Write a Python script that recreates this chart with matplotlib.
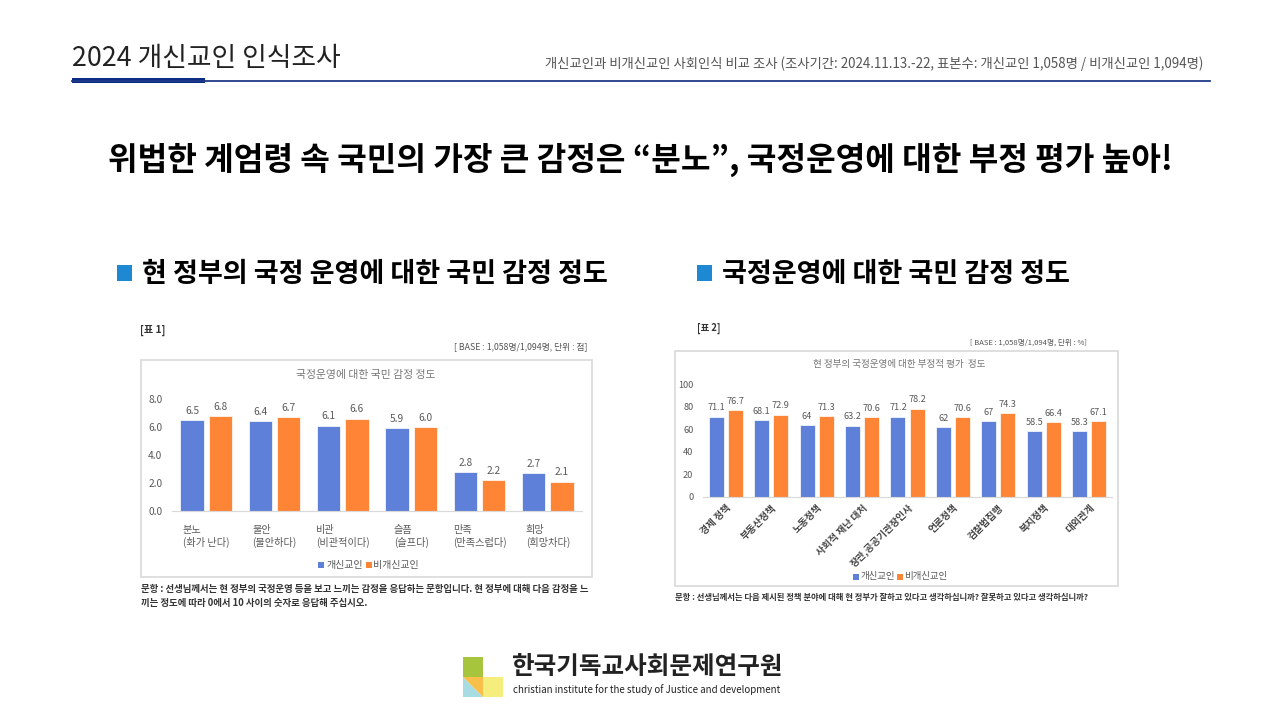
import matplotlib.pyplot as plt
import matplotlib.patches as mpatches
import numpy as np

plt.rcParams['font.family'] = ['Noto Sans CJK KR', 'DejaVu Sans']

# data - chart 1 (emotion scores, 0-10 scale)
emotions = ['분노\n(화가 난다)', '불안\n(불안하다)', '비관\n(비관적이다)',
            '슬픔\n(슬프다)', '만족\n(만족스럽다)', '희망\n(희망차다)']
emo_christian = [6.5, 6.4, 6.1, 5.9, 2.8, 2.7]
emo_non = [6.8, 6.7, 6.6, 6.0, 2.2, 2.1]

# data - chart 2 (negative evaluation, %)
policies = ['경제 정책', '부동산정책', '노동정책', '사회적 재난 대처', '장관,공공기관장인사',
            '언론정책', '검찰법집행', '복지정책', '대외관계']
neg_christian = [71.1, 68.1, 64, 63.2, 71.2, 62, 67, 58.5, 58.3]
neg_non = [76.7, 72.9, 71.3, 70.6, 78.2, 70.6, 74.3, 66.4, 67.1]

series_names = ['개신교인', '비개신교인']
BLUE = '#5F80D8'
ORANGE = '#FF8536'
GRAY = '#595959'

W, H = 1280, 720
fig = plt.figure(figsize=(12.8, 7.2), dpi=100)

# overlay in pixel coords for the slide decoration
bg = fig.add_axes([0, 0, 1, 1])
bg.set_xlim(0, W)
bg.set_ylim(H, 0)
bg.axis('off')


def px_axes(x0, y0, x1, y1):
    # pixel box (top-left origin) -> figure axes
    return fig.add_axes([x0 / W, 1 - y1 / H, (x1 - x0) / W, (y1 - y0) / H])


# header
bg.text(72, 58, '2024 개신교인 인식조사', fontsize=19.3, fontweight='light', color='#222222',
        va='center', ha='left')
bg.text(1203, 64, '개신교인과 비개신교인 사회인식 비교 조사 (조사기간: 2024.11.13.-22, 표본수: 개신교인 1,058명 / 비개신교인 1,094명)',
        fontsize=9.6, color='#555555', va='center', ha='right')
bg.plot([72, 1210], [80.5, 80.5], color='#1F3A8A', lw=1.3)
bg.add_patch(mpatches.Rectangle((72, 78), 133, 5, color='#0B2C85', lw=0))

# main title
bg.text(640, 160, '위법한 계엄령 속 국민의 가장 큰 감정은 “분노”, 국정운영에 대한 부정 평가 높아!',
        fontsize=23.2, fontweight='bold', color='black', ha='center', va='center')

# section headings
for sx, label in [(117, '현 정부의 국정 운영에 대한 국민 감정 정도'), (697, '국정운영에 대한 국민 감정 정도')]:
    bg.add_patch(mpatches.Rectangle((sx, 265), 15, 16, color='#1E88D2', lw=0))
    bg.text(sx + 25, 273.5, label, fontsize=19.5, fontweight='bold', color='black', va='center', ha='left')

# chart frames and small captions
bg.add_patch(mpatches.Rectangle((141, 360), 451, 217, fill=False, ec='#D9D9D9', lw=1.2))
bg.add_patch(mpatches.Rectangle((675, 351), 443, 235, fill=False, ec='#D9D9D9', lw=1.2))
bg.text(140, 330, '[표 1]', fontsize=7.3, fontweight='bold', color='#333333', va='center')
bg.text(697, 328, '[표 2]', fontsize=6.8, fontweight='bold', color='#333333', va='center')
bg.text(587, 347, '[ BASE : 1,058명/1,094명, 단위 : 점]', fontsize=6.3, color='#555555', va='center', ha='right')
bg.text(1087, 343, '[ BASE : 1,058명/1,094명, 단위 : %]', fontsize=5.5, color='#555555', va='center', ha='right')
bg.text(366, 375, '국정운영에 대한 국민 감정 정도', fontsize=7.8, color='#777777', ha='center', va='center')
bg.text(899, 364, '현 정부의 국정운영에 대한 부정적 평가  정도', fontsize=6.9, color='#777777', ha='center', va='center')
bg.text(141, 589, '문항 : 선생님께서는 현 정부의 국정운영 등을 보고 느끼는 감정을 응답하는 문항입니다. 현 정부에 대해 다음 감정을 느',
        fontsize=6.8, fontweight='bold', color='#333333', va='center')
bg.text(141, 603, '끼는 정도에 따라 0에서 10 사이의 숫자로 응답해 주십시오.',
        fontsize=6.8, fontweight='bold', color='#333333', va='center')
bg.text(675, 597, '문항 : 선생님께서는 다음 제시된 정책 분야에 대해 현 정부가 잘하고 있다고 생각하십니까? 잘못하고 있다고 생각하십니까?',
        fontsize=6.0, fontweight='bold', color='#333333', va='center')

# legends: (blue square x, orange square x, y, font size)
for bx, ox, cy, fs in [(318, 366, 565, 7.2), (853, 897, 577, 6.8)]:
    bg.add_patch(mpatches.Rectangle((bx, cy - 3), 6, 6, color=BLUE, lw=0))
    bg.text(bx + 8, cy, series_names[0], fontsize=fs, color=GRAY, va='center')
    bg.add_patch(mpatches.Rectangle((ox, cy - 3), 6, 6, color=ORANGE, lw=0))
    bg.text(ox + 7, cy, series_names[1], fontsize=fs, color=GRAY, va='center')

# logo
bg.add_patch(mpatches.Rectangle((463, 657), 20, 20, color='#A6C43C', lw=0))
bg.add_patch(mpatches.Polygon([(463, 677), (463, 697), (483, 697)], color='#A8DCE3', lw=0))
bg.add_patch(mpatches.Polygon([(463, 677), (483, 677), (483, 697)], color='#F8C04A', lw=0))
bg.add_patch(mpatches.Rectangle((483, 677), 20, 20, color='#F6EE7C', lw=0))
bg.text(512, 667, '한국기독교사회문제연구원', fontsize=17.7, fontweight='bold', color='#222222', va='center')
bg.text(513, 690, 'christian institute for the study of Justice and development', fontsize=7.0,
        color='#222222', va='center')


def bar_chart(ax, cats, a, b, ymax, yticks, fmt, width, off, rot, fs, vfs):
    x = np.arange(len(cats))
    ba = ax.bar(x - off, a, width, color=BLUE, ec='white', lw=0.5)
    bb = ax.bar(x + off, b, width, color=ORANGE, ec='white', lw=0.5)
    for bars, vals in [(ba, a), (bb, b)]:
        ax.bar_label(bars, labels=[fmt(v) for v in vals], padding=3, fontsize=vfs, color=GRAY)
    ax.set_xlim(-0.5, len(cats) - 0.5)
    ax.set_ylim(0, ymax)
    ax.set_yticks(yticks)
    ax.set_yticklabels([fmt(t) for t in yticks])
    ax.tick_params(axis='y', length=0, labelsize=vfs, labelcolor=GRAY, pad=7)
    ax.set_xticks(x)
    if rot:
        ax.tick_params(axis='x', length=0, labelsize=fs, labelcolor='#444444', pad=4)
        ax.set_xticklabels(cats, rotation=45, ha='right', rotation_mode='anchor',
                           fontweight='bold')
    else:
        ax.tick_params(axis='x', length=0, labelsize=fs, labelcolor=GRAY, pad=10)
        ax.set_xticklabels(cats, multialignment='left', linespacing=1.2)
    for s in ['top', 'left', 'right']:
        ax.spines[s].set_visible(False)
    ax.spines['bottom'].set_color('#D9D9D9')
    ax.patch.set_alpha(0)


ax1 = px_axes(172, 399, 582, 511)
bar_chart(ax1, emotions, emo_christian, emo_non, 8, [0, 2, 4, 6, 8],
          lambda v: f'{v:.1f}', 0.34, 0.206, False, 7.3, 7.3)

ax2 = px_axes(703, 384, 1112, 497)
bar_chart(ax2, policies, neg_christian, neg_non, 100, [0, 20, 40, 60, 80, 100],
          lambda v: f'{v:g}', 0.33, 0.21, True, 7.0, 6.6)

fig.savefig('out.png', dpi=100)
